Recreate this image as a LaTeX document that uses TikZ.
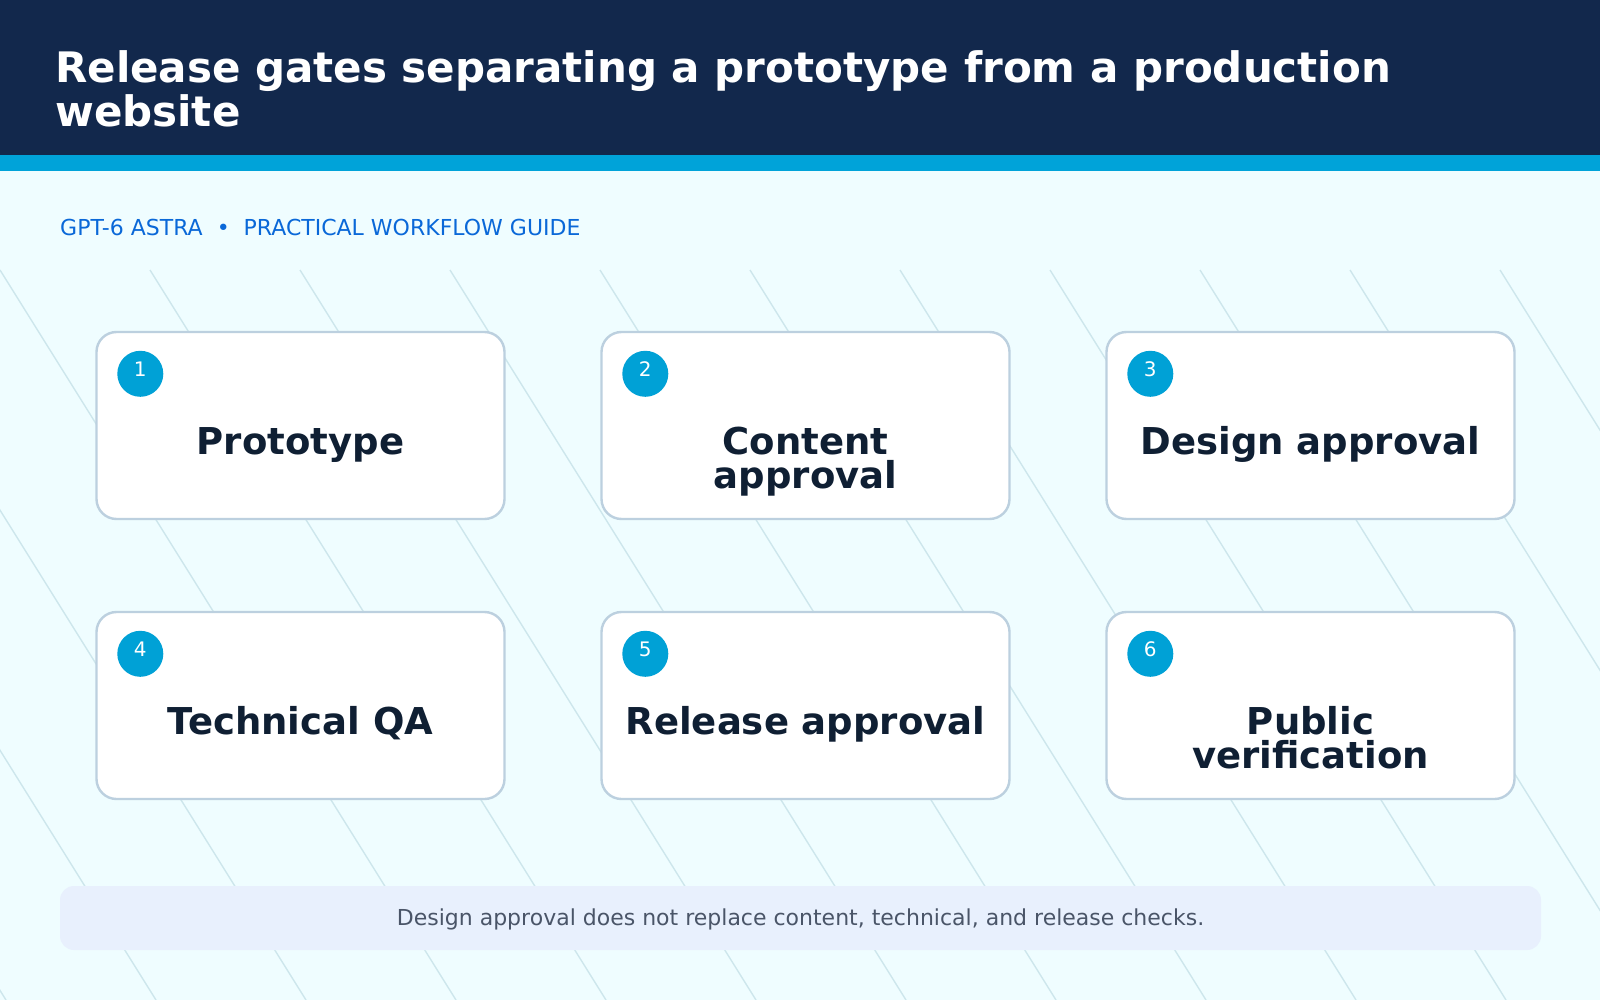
\documentclass[tikz,border=0pt]{standalone}
\usepackage{fontspec}
\setmainfont{DejaVu Sans}
\definecolor{navy}{HTML}{12284C}
\definecolor{band}{HTML}{00A3D9}
\definecolor{bgc}{HTML}{EFFDFF}
\definecolor{diag}{HTML}{CDE6EC}
\definecolor{cardline}{HTML}{BCD0DF}
\definecolor{badge}{HTML}{00A1D6}
\definecolor{cardtext}{HTML}{0F1F33}
\definecolor{subblue}{HTML}{0A68D8}
\definecolor{footfill}{HTML}{E8F0FD}
\definecolor{foottext}{HTML}{4A5568}
\tikzset{
  card/.style={draw=cardline, line width=2.4pt, fill=white, rounded corners=20pt,
    minimum width=408pt, minimum height=187pt, inner sep=0pt},
  badgec/.style={circle, fill=badge, minimum size=46pt, inner sep=0pt},
  badgenum/.style={text=white, font=\fontsize{20}{20}\selectfont, inner sep=0pt, anchor=base},
  cardlabel/.style={text=cardtext, font=\bfseries\fontsize{37}{34}\selectfont, align=center, inner sep=0pt, anchor=base},
  diagline/.style={draw=diag, line width=1.4pt},
}
\begin{document}
\begin{tikzpicture}[x=1pt,y=-1pt]
\useasboundingbox (0,0) rectangle (1600,1000);
\fill[bgc] (0,0) rectangle (1600,1000);
\begin{scope}
\clip (0,270) rectangle (1600,1000);
\foreach \k in {-5,...,11}{
  \draw[diagline] ({150*\k},270) -- ({150*\k+456},1000);
}
\end{scope}
\fill[navy] (0,0) rectangle (1600,155);
\fill[band] (0,155) rectangle (1600,171);
\node[anchor=base west, inner sep=0pt, text=white, font=\bfseries\fontsize{42}{44}\selectfont, align=left] (title) at (55,127)
  {Release gates separating a prototype from a production\\website};
\node[anchor=base west, inner sep=0pt, text=subblue, font=\fontsize{22}{22}\selectfont] (sub) at (60,236)
  {GPT-6 ASTRA \ \textbullet\ \ PRACTICAL WORKFLOW GUIDE};
% cards
\foreach \i/\cx/\cy/\dy/\txt in {1/300.5/425.5/0/Prototype, 2/805.5/425.5/34/{Content\\approval}, 3/1310.5/425.5/0/{Design approval},
  4/300.5/705.5/0/{Technical QA}, 5/805.5/705.5/0/{Release approval}, 6/1310.5/705.5/34/{Public\\verification}}{
  \node[card] (c\i) at (\cx,\cy) {};
  \node[badgec] (b\i) at ([xshift=45pt,yshift=-43pt]c\i.north west) {};
  \node[badgenum] (n\i) at ([yshift=-3pt]b\i.center) {\i};
  \node[cardlabel] (t\i) at ([yshift={-28.5pt-\dy pt}]c\i.center) {\txt};
}
\node[fill=footfill, rounded corners=14pt, minimum width=1481pt, minimum height=64pt, inner sep=0pt] (foot) at (800.5,918) {};
\node[text=foottext, font=\fontsize{22}{22}\selectfont, inner sep=0pt] (foottxt) at ([yshift=-1pt]foot.center)
  {Design approval does not replace content, technical, and release checks.};
\end{tikzpicture}
\end{document}
